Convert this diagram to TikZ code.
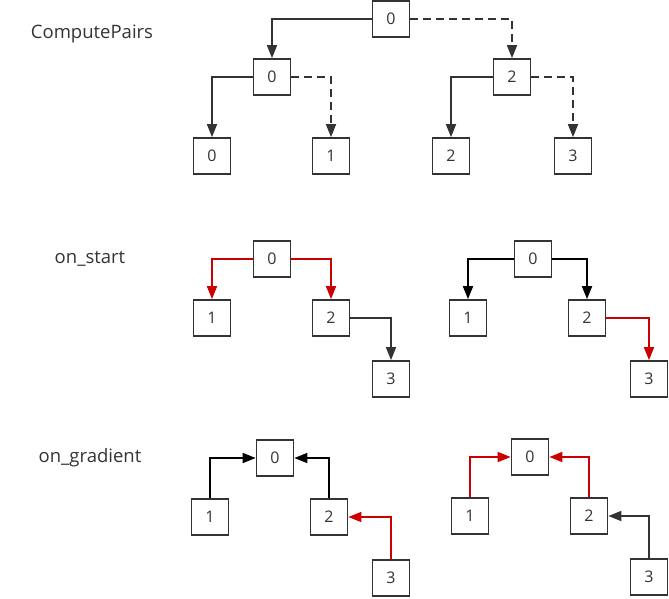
\documentclass[tikz,border=0pt]{standalone}
\usepackage{fontspec}
\setmainfont{Open Sans}
\usetikzlibrary{arrows.meta}
\definecolor{darkline}{HTML}{333333}
\definecolor{redline}{HTML}{CC0000}
\begin{document}
\begin{tikzpicture}[x=1pt,y=-1pt] % координаты в пикселях
\tikzstyle{box} = [draw=darkline, line width=1.7pt, minimum width=37pt, minimum height=36pt, inner sep=0pt, font=\fontsize{16}{16}\selectfont, text=darkline] % узел-квадрат
\tikzstyle{caption} = [font=\fontsize{18.5}{18.5}\selectfont, text=darkline] % подпись слева
\tikzstyle{edge} = [draw=darkline, line width=1.7pt, -{Triangle[length=13pt,width=10pt]}] % обычная стрелка
\tikzstyle{dashedge} = [edge, dash pattern=on 8pt off 5pt] % пунктирная стрелка
\tikzstyle{rededge} = [edge, draw=redline, -{Triangle[length=13pt,width=10pt,fill=redline]}]
\tikzstyle{blackedge} = [edge, draw=black, -{Triangle[length=13pt,width=10pt,fill=black]}]
\useasboundingbox (0,0) rectangle (669,598);
% подписи
\node[caption] (lcp) at (92,34) {ComputePairs};
\node[caption] (lst) at (90,259) {on\_start};
\node[caption] (lgr) at (90,458) {on\_gradient};
% ComputePairs
\node[box] (t0) at (391,19) {0};
\node[box] (t1) at (272,77) {0};
\node[box] (t2) at (512,77) {2};
\node[box] (t3) at (212,156) {0};
\node[box] (t4) at (331,156) {1};
\node[box] (t5) at (451,156) {2};
\node[box] (t6) at (573,156) {3};
\draw[edge] (t0.west) -| (t1.north);
\draw[dashedge] (t0.east) -| (t2.north);
\draw[edge] (t1.west) -| (t3.north);
\draw[dashedge] (t1.east) -| (t4.north);
\draw[edge] (t2.west) -| (t5.north);
\draw[dashedge] (t2.east) -| (t6.north);
% on_start, слева
\node[box] (s0) at (272,259) {0};
\node[box] (s1) at (212,318) {1};
\node[box] (s2) at (331,318) {2};
\node[box] (s3) at (391,379) {3};
\draw[rededge] (s0.west) -| (s1.north);
\draw[rededge] (s0.east) -| (s2.north);
\draw[edge] (s2.east) -| (s3.north);
% on_start, справа
\node[box] (u0) at (533,259) {0};
\node[box] (u1) at (468,318) {1};
\node[box] (u2) at (587,318) {2};
\node[box] (u3) at (649,379) {3};
\draw[blackedge] (u0.west) -| (u1.north);
\draw[blackedge] (u0.east) -| (u2.north);
\draw[rededge] (u2.east) -| (u3.north);
% on_gradient, слева
\node[box] (g0) at (275,458) {0};
\node[box] (g1) at (210,517) {1};
\node[box] (g2) at (329,517) {2};
\node[box] (g3) at (391,578) {3};
\draw[blackedge] (g1.north) |- (g0.west);
\draw[blackedge] (g2.north) |- (g0.east);
\draw[rededge] (g3.north) |- (g2.east);
% on_gradient, справа
\node[box] (h0) at (530,457) {0};
\node[box] (h1) at (470,516) {1};
\node[box] (h2) at (589,516) {2};
\node[box] (h3) at (649,577) {3};
\draw[rededge] (h1.north) |- (h0.west);
\draw[rededge] (h2.north) |- (h0.east);
\draw[edge] (h3.north) |- (h2.east);
\end{tikzpicture}
\end{document}
